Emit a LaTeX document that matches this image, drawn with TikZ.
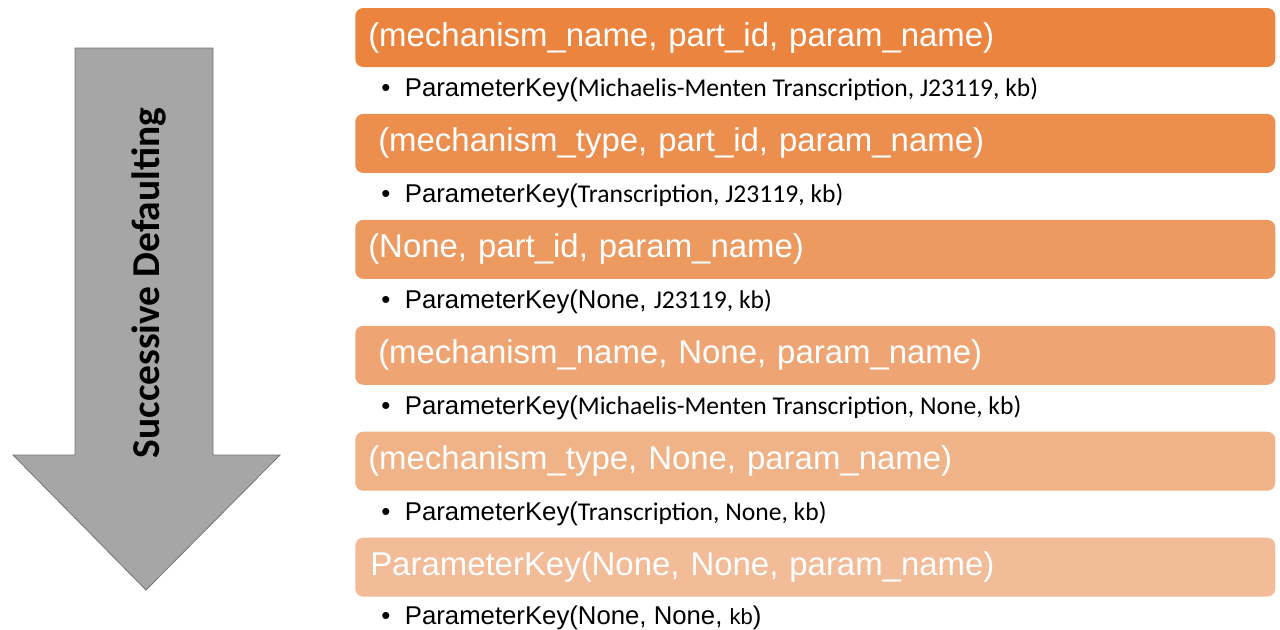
\documentclass[tikz,border=0pt]{standalone}
\usepackage{fontspec}
\setmainfont{Liberation Sans}
\newfontfamily\calibri{Carlito}
\usetikzlibrary{positioning,calc}
\definecolor{key1}{HTML}{EB843E}
\definecolor{key2}{HTML}{EC8E4E}
\definecolor{key3}{HTML}{ED9A60}
\definecolor{key4}{HTML}{EFA573}
\definecolor{key5}{HTML}{F0B287}
\definecolor{key6}{HTML}{F2BC98}
\newcommand{\pk}{ParameterKey(}
\newcommand{\cb}{\calibri\fontsize{19.2}{22}\selectfont}

\begin{document}
\begin{tikzpicture}[x=0.75pt, y=-0.75pt, node distance=34.8pt,
  bar/.style={rounded corners=6pt, minimum width=690pt, minimum height=44.25pt,
    text width=670.5pt, inner xsep=9.75pt, inner ysep=0pt, align=left, text=white,
    font=\fontsize{24.7}{27}\selectfont},
  item/.style={anchor=west, inner sep=0pt, font=\fontsize{19.3}{22}\selectfont}]
\useasboundingbox (0,0) rectangle (1280,629);

% big arrow on the left
\draw[draw=gray!90!black, fill=black!35, line width=0.6pt]
  (75,48) -- (213,48) -- (213,455) -- (280,455) -- (146,590) -- (13,455) -- (75,455) -- cycle;
\node[rotate=90, font=\calibri\bfseries\fontsize{29.6}{31}\selectfont] (succ) at (149,283) {Successive Defaulting};

% the keys, most specific first
\node[bar, fill=key1, anchor=west] (b1) at (355,37.5) {(mechanism\_name, part\_id, param\_name)};
\node[bar, fill=key2, below=of b1] (b2) {\hspace*{7.5pt}(mechanism\_type, part\_id, param\_name)};
\node[bar, fill=key3, below=of b2] (b3) {(None, part\_id, param\_name)};
\node[bar, fill=key4, below=of b3] (b4) {\hspace*{7.5pt}(mechanism\_name, None, param\_name)};
\node[bar, fill=key5, below=of b4] (b5) {(mechanism\_type, None, param\_name)};
\node[bar, fill=key6, below=of b5] (b6) {\hspace*{1.5pt}ParameterKey(None, None, param\_name)};

% examples under each bar
\node[item] (k1) at ($(b1.south west)+(26,22.5)$) {\textbullet\hspace{11pt}\pk{\cb Michaelis-Menten Transcription, J23119, kb)}};
\node[item] (k2) at ($(b2.south west)+(26,22.5)$) {\textbullet\hspace{11pt}\pk{\cb Transcription, J23119, kb)}};
\node[item] (k3) at ($(b3.south west)+(26,22.5)$) {\textbullet\hspace{11pt}\pk None, {\cb J23119, kb)}};
\node[item] (k4) at ($(b4.south west)+(26,22.5)$) {\textbullet\hspace{11pt}\pk{\cb Michaelis-Menten Transcription, None, kb)}};
\node[item] (k5) at ($(b5.south west)+(26,22.5)$) {\textbullet\hspace{11pt}\pk{\cb Transcription, None, kb)}};
\node[item] (k6) at ($(b6.south west)+(26,21)$) {\textbullet\hspace{11pt}\pk None, None, {\fontsize{16.5}{20}\selectfont kb})};
\end{tikzpicture}
\end{document}
